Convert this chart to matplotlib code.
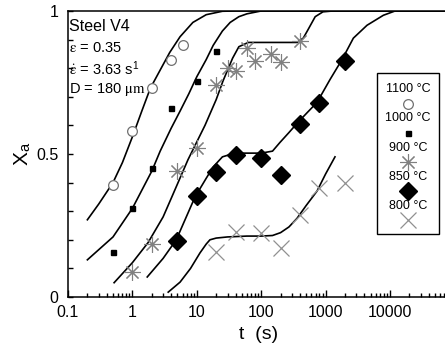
import matplotlib
matplotlib.use('Agg')
import matplotlib.pyplot as plt
from matplotlib.patches import Rectangle
from matplotlib.ticker import MultipleLocator, NullFormatter

plt.rcParams['font.family'] = ['Liberation Sans', 'DejaVu Sans']
plt.rcParams['mathtext.fontset'] = 'stix'

# measured fractions (symbols)
t_1100 = [0.5, 1, 2, 4, 6]
x_1100 = [0.39, 0.58, 0.73, 0.83, 0.88]
t_1000 = [0.5, 1, 2, 4, 10, 20]
x_1000 = [0.157, 0.31, 0.45, 0.66, 0.755, 0.86]
t_900 = [1, 2, 5, 10, 20, 30, 40, 60, 80, 140, 200, 400]
x_900 = [0.087, 0.185, 0.44, 0.52, 0.74, 0.80, 0.79, 0.87, 0.825, 0.85, 0.82, 0.895]
t_850 = [5, 10, 20, 40, 100, 200, 400, 800, 2000]
x_850 = [0.196, 0.353, 0.437, 0.496, 0.486, 0.427, 0.605, 0.68, 0.825]
t_800 = [20, 40, 100, 200, 400, 800, 2000]
x_800 = [0.157, 0.227, 0.224, 0.171, 0.287, 0.38, 0.40]

# model curves (lines)
tc_1100 = [0.2, 0.3, 0.5, 0.7, 1.0, 1.4, 1.9, 2.8, 3.8, 5.5, 8.7, 14, 25, 40, 84000]
xc_1100 = [0.27, 0.325, 0.40, 0.47, 0.56, 0.65, 0.73, 0.80, 0.855, 0.91, 0.96, 0.987, 0.999, 1.0, 1.0]
tc_1000 = [0.2, 0.5, 1.0, 2.0, 2.7, 4.0, 5.5, 7.5, 10, 14, 18, 25, 33, 45, 60, 100, 84000]
xc_1000 = [0.13, 0.21, 0.31, 0.44, 0.51, 0.59, 0.65, 0.71, 0.77, 0.83, 0.88, 0.93, 0.96, 0.98, 0.99, 1.0, 1.0]
tc_900 = [0.52, 1.0, 1.75, 3.0, 4.1, 7.3, 13.4, 20, 25.5, 36, 45, 63, 100, 200, 360,
          450, 520, 690, 910, 1300, 84000]
xc_900 = [0.05, 0.12, 0.19, 0.28, 0.35, 0.48, 0.60, 0.69, 0.755, 0.835, 0.875, 0.89, 0.89, 0.89, 0.89,
          0.905, 0.93, 0.98, 0.997, 1.0, 1.0]
tc_850 = [1.7, 3.0, 4.8, 9.4, 14, 18, 25, 35, 50, 100, 150, 195, 270, 370, 520, 735,
          1170, 1800, 2700, 4400, 7900, 12000, 84000]
xc_850 = [0.07, 0.135, 0.20, 0.35, 0.415, 0.455, 0.49, 0.50, 0.503, 0.503, 0.51, 0.54, 0.575, 0.61, 0.645, 0.68,
          0.76, 0.83, 0.905, 0.95, 0.985, 1.0, 1.0]
tc_800 = [3.6, 5.5, 8, 11.2, 14, 16, 20, 30, 60, 100, 150, 200, 270, 360, 500, 735, 1000, 1400]
xc_800 = [0.017, 0.052, 0.10, 0.154, 0.185, 0.20, 0.206, 0.21, 0.213, 0.213, 0.215, 0.225, 0.245, 0.275,
          0.32, 0.37, 0.43, 0.49]

labels = ['1100 \u00b0C', '1000 \u00b0C', '900 \u00b0C', '850 \u00b0C', '800 \u00b0C']
x_ticks = [0.1, 1, 10, 100, 1000, 10000]
x_ticklabels = ['0.1', '1', '10', '100', '1000', '10000']
y_ticks = [0, 0.5, 1]
y_ticklabels = ['0', '0.5', '1']

GRAY = '#808080'
styles = [
    dict(marker='o', ms=7, mfc='white', mec='#707070', mew=0.9, ls='none'),
    dict(marker='s', ms=3.6, mfc='black', mec='black', ls='none'),
    dict(marker=(8, 2, 0), ms=12, mec=GRAY, mew=0.8, ls='none'),
    dict(marker='D', ms=8.8, mfc='black', mec='black', ls='none'),
    dict(marker='x', ms=11, mec='#909090', mew=0.9, ls='none'),
]


def plot_kinetics():
    fig = plt.figure(figsize=(4.45, 3.54), dpi=100)
    ax = fig.add_axes([0.1528, 0.161, 0.8573, 0.808])

    curves = [(tc_1100, xc_1100), (tc_1000, xc_1000), (tc_900, xc_900),
              (tc_850, xc_850), (tc_800, xc_800)]
    for t, x in curves:
        ax.plot(t, x, color='black', lw=1.2)

    points = [(t_1100, x_1100), (t_1000, x_1000), (t_900, x_900),
              (t_850, x_850), (t_800, x_800)]
    for (t, x), st in zip(points, styles):
        ax.plot(t, x, **st)

    ax.set_xscale('log')
    ax.set_xlim(0.1, 84000)
    ax.set_ylim(0, 1)
    ax.set_xticks(x_ticks)
    ax.set_xticklabels(x_ticklabels)
    ax.xaxis.set_minor_formatter(NullFormatter())
    ax.set_yticks(y_ticks)
    ax.set_yticklabels(y_ticklabels)
    ax.yaxis.set_minor_locator(MultipleLocator(0.1))
    ax.tick_params(which='both', direction='in', labelsize=11.5, width=1)
    ax.tick_params(axis='x', which='major', length=5, pad=6)
    ax.tick_params(axis='x', which='minor', length=3)
    ax.tick_params(axis='y', which='both', length=3.5, pad=7)
    for sp in ax.spines.values():
        sp.set_linewidth(1.1)

    ax.set_xlabel('t  (s)', fontsize=14, labelpad=4)
    ax.set_ylabel('X$_{\\mathregular{a}}$', fontsize=15, labelpad=2)

    # conditions block, top left
    ax.text(0.003, 0.944, 'Steel V4', transform=ax.transAxes, fontsize=11.5, va='center')
    ax.text(0.003, 0.871, '$\\mathrm{\\varepsilon}$ = 0.35', transform=ax.transAxes,
            fontsize=10.5, va='center')
    ax.text(0.003, 0.797, '$\\dot{\\mathrm{\\varepsilon}}$ = 3.63 s$^{\\mathregular{1}}$',
            transform=ax.transAxes, fontsize=10.5, va='center')
    ax.text(0.003, 0.724, 'D = 180 $\\mathrm{\\mu m}$', transform=ax.transAxes, fontsize=10.5, va='center')

    # legend box with the label above each symbol
    ax.add_patch(Rectangle((0.810, 0.220), 0.1625, 0.563, transform=ax.transAxes,
                           fill=False, ec='black', lw=1.0))
    text_y = [0.727, 0.626, 0.521, 0.420, 0.319]
    mark_y = [0.675, 0.573, 0.472, 0.371, 0.269]
    for lab, ty, my, st in zip(labels, text_y, mark_y, styles):
        ax.text(0.891, ty, lab, transform=ax.transAxes, fontsize=9, ha='center', va='center')
        ax.plot([0.891], [my], transform=ax.transAxes, clip_on=False, **st)

    fig.savefig('out.png', dpi=100)
    plt.close(fig)


if __name__ == '__main__':
    plot_kinetics()
